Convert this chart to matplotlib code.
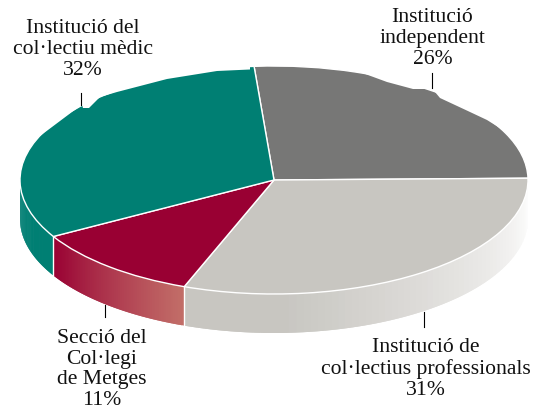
import numpy as np
import matplotlib
matplotlib.use("Agg")
import matplotlib.pyplot as plt
from matplotlib.colors import to_rgb

# Datos del gráfico
categorias = ["Institució independent", "Institució de col·lectius professionals",
              "Secció del Col·legi de Metges", "Institució del col·lectiu mèdic"]
valores = [26, 31, 11, 32]
etiquetas = [
    "Institució\nindependent\n26%",
    "Institució de\ncol·lectius professionals\n31%",
    "Secció del\nCol·legi\nde Metges\n11%",
    "Institució del\ncol·lectiu mèdic\n32%",
]
colores = ["#777776", "#c8c6c1", "#990033", "#007f73"]

# Geometría en píxeles de la imagen
W, H = 533, 409
CX, CY, RX, RY = 274, 180, 254, 114
DEPTH = 39 / RY
START = 94.5

# Color del lateral de cada sector: (inicio, fin) del degradado
lateral = {
    1: ("#ffffff", "#c8c6c1"),
    2: ("#c26e68", "#990033"),
    3: ("#007f73", "#007f73"),
}

fig = plt.figure(figsize=(W / 100, H / 100), dpi=100)
ax = fig.add_axes([0, 0, 1, 1])
ax.pie(valores, colors=colores, startangle=START, counterclock=False, radius=1,
       wedgeprops={"edgecolor": "white", "linewidth": 1, "zorder": 5})
ax.set_aspect("auto")
ax.set_xlim(-CX / RX, (W - CX) / RX)
ax.set_ylim(-(H - CY) / RY, CY / RY)
ax.axis("off")

# Lateral del pastel, por tiras solapadas para que no se vean las juntas
acum = START - np.cumsum([0] + valores) * 3.6
for i, (ini, fin) in lateral.items():
    t1, t2 = acum[i], acum[i + 1]
    # solo se ve la mitad inferior de la elipse
    t1 = min(t1, 0) if t1 <= 0.5 else 0
    t2 = max(t2, -180)
    angulos = np.linspace(t1, t2, 70)
    c1, c2 = np.array(to_rgb(ini)), np.array(to_rgb(fin))
    for j in range(len(angulos) - 1):
        a = np.radians([angulos[j], angulos[min(j + 2, len(angulos) - 1)]])
        f = j / (len(angulos) - 2)
        # el degradado es más rápido en el extremo claro
        col = c1 + (c2 - c1) * min(f * 1.25, 1) if i == 1 else c1 + (c2 - c1) * f
        x = np.cos(a)
        y = np.sin(a)
        ax.fill([x[0], x[1], x[1], x[0]], [y[0], y[1], y[1] - DEPTH, y[0] - DEPTH],
                color=col, lw=0, zorder=2 + j / 100)
    # separador blanco entre sectores
    if acum[i + 1] > -180:
        b = np.radians(acum[i + 1])
        ax.plot([np.cos(b)] * 2, [np.sin(b), np.sin(b) - DEPTH], color="white", lw=1, zorder=3)

# Capa en píxeles para texto y marcas
ov = fig.add_axes([0, 0, 1, 1], facecolor="none")
ov.set_xlim(0, W)
ov.set_ylim(H, 0)
ov.axis("off")

# Retoque del borde superior, que en el original no es una elipse limpia
borde_x_izq = [40, 48, 72, 82, 83, 89, 100, 117, 167, 217, 250]
borde_y_izq = [136, 130, 112, 105, 108, 108, 97, 92, 79, 71, 69.5]
borde_x_der = [345, 357, 387, 413, 430, 435, 440, 470, 487, 503, 515]
borde_y_der = [68.5, 71, 82, 89, 89, 92, 98, 112, 120, 130, 142]
for bx, by in [(borde_x_izq, borde_y_izq), (borde_x_der, borde_y_der)]:
    ov.fill(bx + [bx[-1], bx[0]], by + [55, 55], color="white", lw=0, zorder=6)

# Guías de las etiquetas
guias = [(432, 73, 88), (424, 312, 327), (105, 305, 317), (81, 93, 105)]
for x, y1, y2 in guias:
    ov.plot([x, x], [y1, y2], color="black", lw=0.8, zorder=7)

# Etiquetas
posiciones = [(432.5, 38.5), (426, 369), (102, 369.5), (83, 49.5)]
for txt, (x, y) in zip(etiquetas, posiciones):
    ov.text(x, y, txt, ha="center", va="center", fontsize=15.6, linespacing=1.12,
            family="Liberation Serif", color="#111111", zorder=8)

fig.savefig("out.png", dpi=100)
